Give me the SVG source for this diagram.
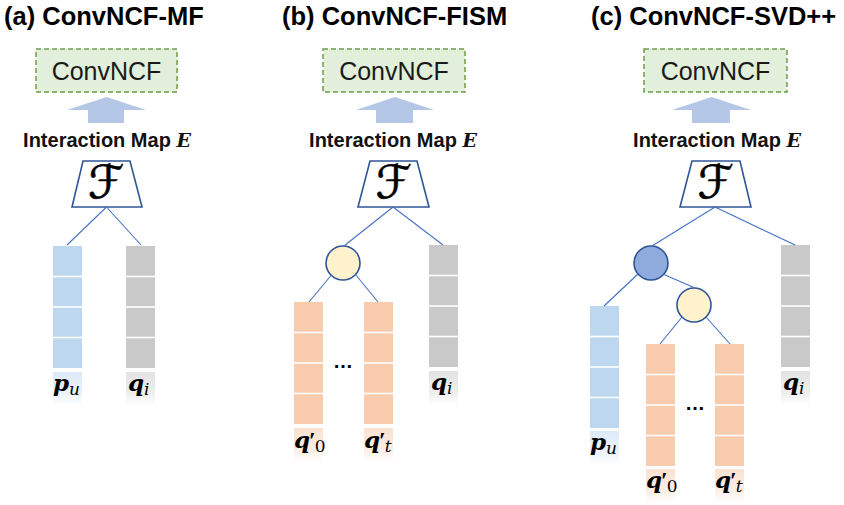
<svg xmlns="http://www.w3.org/2000/svg" xmlns:xlink="http://www.w3.org/1999/xlink" width="844" height="505" viewBox="0 0 844 505">
<style>
.title{font-family:"Liberation Sans",Arial,sans-serif;font-weight:bold;font-size:25.5px;fill:#000}
.boxtxt{font-family:"Liberation Sans",Arial,sans-serif;font-size:25px;fill:#1a1a1a}
.map{font-family:"Liberation Sans",Arial,sans-serif;font-weight:bold;font-size:20px;fill:#111}
.mathE{font-family:"DejaVu Serif","Liberation Serif",serif;font-weight:bold;font-style:italic;font-size:19px}
.conv{fill:#E2EFDA;stroke:#6B9E4A;stroke-width:1.5;stroke-dasharray:5 3}
.arrow{fill:#B4C7E7}
.trap{fill:#fff;stroke:#2F5597;stroke-width:1.6}
.F{font-family:"DejaVu Serif","DejaVu Sans",serif;font-size:46px;fill:#000;stroke:#000;stroke-width:0.6}
.conn{stroke:#4472C4;stroke-width:1.1;fill:none}
.circ{stroke:#2F5597;stroke-width:1.6}
.mb{font-family:"DejaVu Serif","Liberation Serif",serif;font-weight:bold;font-style:italic;font-size:23px;fill:#000}
.pr{font-family:"Liberation Serif","Times New Roman",serif;font-weight:bold;font-size:24px;fill:#000}
.ms{font-family:"DejaVu Serif","Liberation Serif",serif;font-style:italic;font-size:17px;fill:#000}
.mu{font-family:"DejaVu Serif","Liberation Serif",serif;font-size:17px;fill:#000}
.dots{font-family:"Liberation Sans",Arial,sans-serif;font-weight:bold;font-size:20px;fill:#000}
</style>
<defs>
<g id="bar">
<rect x="0" y="0" width="29" height="122"/>
<line x1="0" y1="30.5" x2="29" y2="30.5" stroke="#fff" stroke-width="1.6"/>
<line x1="0" y1="61" x2="29" y2="61" stroke="#fff" stroke-width="1.6"/>
<line x1="0" y1="91.5" x2="29" y2="91.5" stroke="#fff" stroke-width="1.6"/>
</g>
<linearGradient id="gBlue" x1="0" y1="0" x2="0" y2="1">
<stop offset="0" stop-color="#DDEAF7"/><stop offset="0.6" stop-color="#EAF2FA"/><stop offset="1" stop-color="#fff"/>
</linearGradient>
<linearGradient id="gGray" x1="0" y1="0" x2="0" y2="1">
<stop offset="0" stop-color="#E3E3E3"/><stop offset="0.6" stop-color="#EEEEEE"/><stop offset="1" stop-color="#fff"/>
</linearGradient>
<linearGradient id="gOrange" x1="0" y1="0" x2="0" y2="1">
<stop offset="0" stop-color="#FBE2D2"/><stop offset="0.6" stop-color="#FCEDE3"/><stop offset="1" stop-color="#fff"/>
</linearGradient>
</defs>
<rect width="844" height="505" fill="#fff"/>

<!-- Panel (a) -->
<g id="a-title"><text class="title" x="4" y="25">(a) ConvNCF-MF</text></g>
<g id="a-convncf"><rect class="conv" x="36" y="49" width="141" height="43"/><text class="boxtxt" x="106.5" y="80" text-anchor="middle">ConvNCF</text></g>
<g id="a-arrow"><polygon class="arrow" points="67,110 106.5,97 146,110 124,110 124,123 88,123 88,110"/></g>
<g id="a-map"><text class="map" x="107" y="147" text-anchor="middle">Interaction Map <tspan class="mathE">E</tspan></text></g>
<g id="a-F"><polygon class="trap" points="83,161 130,161 142,207 72,207"/><text class="F" x="106" y="198" text-anchor="middle">ℱ</text></g>
<g id="a-pu"><use xlink:href="#bar" x="53" y="246" fill="#BDD7EE"/><rect x="53" y="372" width="29" height="34" fill="url(#gBlue)"/><text x="53" y="391"><tspan class="mb">p</tspan><tspan class="ms" dy="4">u</tspan></text></g>
<g id="a-qi"><use xlink:href="#bar" x="126" y="246" fill="#C9C9C9"/><rect x="126" y="372" width="29" height="34" fill="url(#gGray)"/><text x="128" y="391"><tspan class="mb">q</tspan><tspan class="ms" dy="4">i</tspan></text></g>

<!-- Panel (b) -->
<g id="b-title"><text class="title" x="282" y="25">(b) ConvNCF-FISM</text></g>
<g id="b-convncf"><rect class="conv" x="323" y="49" width="142" height="43"/><text class="boxtxt" x="394" y="80" text-anchor="middle">ConvNCF</text></g>
<g id="b-arrow"><polygon class="arrow" points="356,110 395,97 434,110 413,110 413,123 376,123 376,110"/></g>
<g id="b-map"><text class="map" x="393" y="147" text-anchor="middle">Interaction Map <tspan class="mathE">E</tspan></text></g>
<g id="b-F"><polygon class="trap" points="370,161 417,161 429,207 358,207"/><text class="F" x="393.5" y="198" text-anchor="middle">ℱ</text></g>
<g id="b-agg"><circle class="circ" cx="343" cy="263" r="17" fill="#FFF2CC"/></g>
<g id="b-q0"><use xlink:href="#bar" x="294" y="302" fill="#F8CBAD"/><rect x="294" y="428" width="29" height="34" fill="url(#gOrange)"/><text x="294" y="448"><tspan class="mb">q</tspan><tspan class="pr" dx="-1">′</tspan><tspan class="mu" dx="-1" dy="4">0</tspan></text></g>
<g id="b-dots"><text class="dots" x="343" y="368" text-anchor="middle">…</text></g>
<g id="b-qt"><use xlink:href="#bar" x="364" y="302" fill="#F8CBAD"/><rect x="364" y="428" width="29" height="34" fill="url(#gOrange)"/><text x="364" y="448"><tspan class="mb">q</tspan><tspan class="pr" dx="-1">′</tspan><tspan class="ms" dx="-1" dy="4">t</tspan></text></g>
<g id="b-qi"><use xlink:href="#bar" x="429" y="245" fill="#C9C9C9"/><rect x="429" y="371" width="29" height="34" fill="url(#gGray)"/><text x="431" y="390"><tspan class="mb">q</tspan><tspan class="ms" dy="4">i</tspan></text></g>

<!-- Panel (c) -->
<g id="c-title"><text class="title" x="591" y="25">(c) ConvNCF-SVD++</text></g>
<g id="c-convncf"><rect class="conv" x="644" y="49" width="143" height="43"/><text class="boxtxt" x="715.5" y="80" text-anchor="middle">ConvNCF</text></g>
<g id="c-arrow"><polygon class="arrow" points="672,110 711.5,97 751,110 730,110 730,123 692,123 692,110"/></g>
<g id="c-map"><text class="map" x="717" y="147" text-anchor="middle">Interaction Map <tspan class="mathE">E</tspan></text></g>
<g id="c-F"><polygon class="trap" points="692,161 740,161 751,207 680,207"/><text class="F" x="715.5" y="198" text-anchor="middle">ℱ</text></g>
<g id="c-agg1"><circle class="circ" cx="651" cy="263" r="17" fill="#8FAADC"/></g>
<g id="c-agg2"><circle class="circ" cx="694" cy="305" r="17" fill="#FFF2CC"/></g>
<g id="c-pu"><use xlink:href="#bar" x="590" y="306" fill="#BDD7EE"/><rect x="590" y="431" width="29" height="34" fill="url(#gBlue)"/><text x="590" y="450"><tspan class="mb">p</tspan><tspan class="ms" dy="4">u</tspan></text></g>
<g id="c-q0"><use xlink:href="#bar" x="646" y="344" fill="#F8CBAD"/><rect x="646" y="469" width="29" height="34" fill="url(#gOrange)"/><text x="646" y="488"><tspan class="mb">q</tspan><tspan class="pr" dx="-1">′</tspan><tspan class="mu" dx="-1" dy="4">0</tspan></text></g>
<g id="c-dots"><text class="dots" x="695" y="410" text-anchor="middle">…</text></g>
<g id="c-qt"><use xlink:href="#bar" x="715" y="344" fill="#F8CBAD"/><rect x="715" y="469" width="29" height="34" fill="url(#gOrange)"/><text x="715" y="488"><tspan class="mb">q</tspan><tspan class="pr" dx="-1">′</tspan><tspan class="ms" dx="-1" dy="4">t</tspan></text></g>
<g id="c-qi"><use xlink:href="#bar" x="781" y="245" fill="#C9C9C9"/><rect x="781" y="371" width="29" height="34" fill="url(#gGray)"/><text x="783" y="390"><tspan class="mb">q</tspan><tspan class="ms" dy="4">i</tspan></text></g>

<!-- Connectors -->
<g id="connectors" class="conn">
<line x1="106.5" y1="207" x2="67" y2="245"/>
<line x1="106.5" y1="207" x2="141" y2="245"/>
<line x1="393" y1="207" x2="344" y2="246"/>
<line x1="393" y1="207" x2="443" y2="245"/>
<line x1="331" y1="275.5" x2="309" y2="302"/>
<line x1="355.5" y1="274.5" x2="378" y2="302"/>
<line x1="715" y1="207" x2="652" y2="246"/>
<line x1="715" y1="207" x2="795" y2="245"/>
<line x1="638" y1="274" x2="604" y2="306"/>
<line x1="664" y1="274.5" x2="695" y2="288"/>
<line x1="682" y1="317" x2="660" y2="344"/>
<line x1="706" y1="317" x2="730" y2="344"/>
</g>
</svg>
